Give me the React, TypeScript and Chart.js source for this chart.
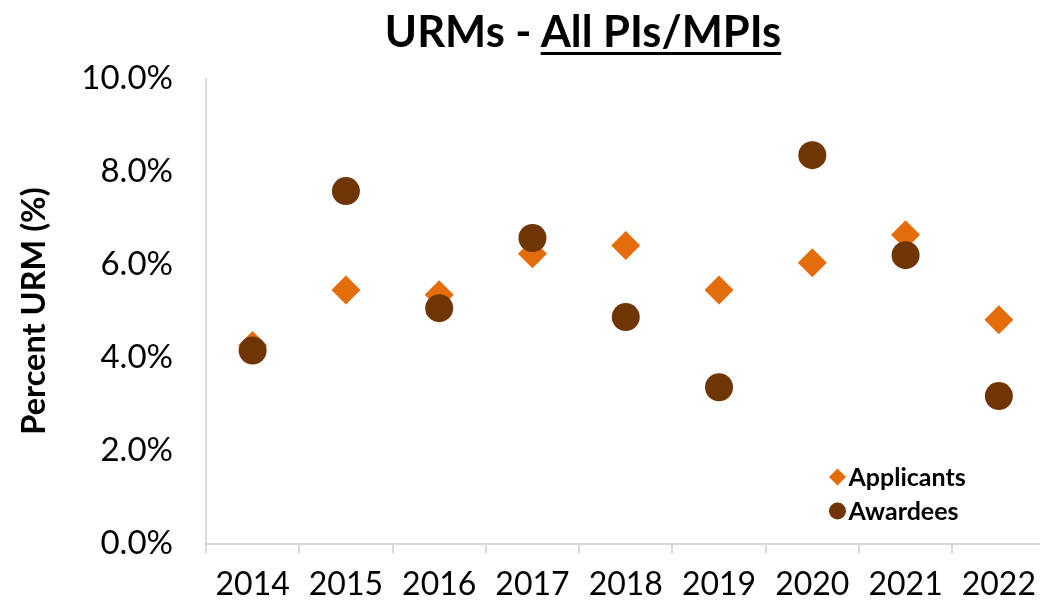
import React, { useEffect, useRef } from 'react';
import { Chart, registerables } from 'chart.js';

Chart.register(...registerables);

// ---- data ----
const years: string[] = ['2014', '2015', '2016', '2017', '2018', '2019', '2020', '2021', '2022'];
const applicants: number[] = [4.26, 5.45, 5.35, 6.23, 6.41, 5.45, 6.04, 6.64, 4.81];
const awardees: number[] = [4.15, 7.58, 5.06, 6.57, 4.87, 3.36, 8.35, 6.2, 3.17];
const seriesNames: string[] = ['Applicants', 'Awardees'];
const yMin = 0;
const yMax = 10;
const yStep = 2;
const titleMain = 'URMs - ';
const titleUnderlined = 'All PIs/MPIs';
const yAxisTitle = 'Percent URM (%)';

const ORANGE = '#E46C0A';
const BROWN = '#6F3504';
const AXIS = '#D9D9D9';
const FONT = 'Lato';

const legendPlugin = {
  id: 'insideLegend',
  afterDraw(chart: any) {
    const { ctx, chartArea } = chart;
    const x0 = chartArea.right - 208;
    const ys = [chartArea.bottom - 66.5, chartArea.bottom - 32.5];
    ctx.save();
    chart.data.datasets.forEach((ds: any, i: number) => {
      const y = ys[i];
      ctx.fillStyle = ds.backgroundColor;
      ctx.beginPath();
      if (ds.pointStyle === 'rectRot') {
        const r = 8.5;
        ctx.moveTo(x0, y - r);
        ctx.lineTo(x0 + r, y);
        ctx.lineTo(x0, y + r);
        ctx.lineTo(x0 - r, y);
        ctx.closePath();
      } else {
        ctx.arc(x0, y, 8.5, 0, Math.PI * 2);
      }
      ctx.fill();
      ctx.fillStyle = '#000';
      ctx.font = `bold 25px ${FONT}`;
      ctx.textBaseline = 'middle';
      ctx.textAlign = 'left';
      ctx.fillText(ds.label, x0 + 11, y + 1);
    });
    ctx.restore();
  },
};

export default function App() {
  const ref = useRef<HTMLCanvasElement | null>(null);

  useEffect(() => {
    if (!ref.current) return;
    const chart = new Chart(ref.current, {
      type: 'line',
      data: {
        labels: years,
        datasets: [
          {
            label: seriesNames[0],
            data: applicants,
            showLine: false,
            pointStyle: 'rectRot',
            pointRadius: 14.5,
            pointHoverRadius: 14.5,
            backgroundColor: ORANGE,
            borderColor: ORANGE,
            pointBorderWidth: 0,
            order: 2,
          },
          {
            label: seriesNames[1],
            data: awardees,
            showLine: false,
            pointStyle: 'circle',
            pointRadius: 14,
            pointHoverRadius: 14,
            backgroundColor: BROWN,
            borderColor: BROWN,
            pointBorderWidth: 0,
            order: 1,
          },
        ],
      },
      options: {
        animation: false,
        responsive: false,
        maintainAspectRatio: false,
        layout: { padding: { left: 0, right: 4, top: 78.5, bottom: 0 } },
        plugins: {
          legend: { display: false },
          tooltip: { enabled: false },
          title: { display: false },
        },
        scales: {
          x: {
            offset: true,
            grid: {
              offset: true,
              display: true,
              drawOnChartArea: false,
              drawTicks: true,
              tickLength: 10,
              color: AXIS,
              lineWidth: 2,
            },
            border: { display: true, color: AXIS, width: 2 },
            ticks: {
              font: { family: FONT, size: 32 },
              color: '#000',
              padding: 12,
              maxRotation: 0,
              autoSkip: false,
            },
            afterFit: (s: any) => {
              s.height = 63.5;
            },
          },
          y: {
            min: yMin,
            max: yMax,
            ticks: {
              stepSize: yStep,
              callback: (v: any) => Number(v).toFixed(1) + '%',
              font: { family: FONT, size: 33 },
              color: '#000',
              padding: 25,
            },
            grid: { display: false },
            border: { display: true, color: AXIS, width: 2 },
            title: {
              display: true,
              text: yAxisTitle,
              font: { family: FONT, size: 32.5, weight: 'bold' },
              color: '#000',
              padding: { top: 15, bottom: 0 },
            },
            afterFit: (s: any) => {
              s.width = 206;
            },
          },
        },
      },
      plugins: [legendPlugin],
    } as any);
    return () => chart.destroy();
  }, []);

  return (
    <div
      style={{
        position: 'absolute',
        left: 0,
        top: 0,
        width: 1040,
        height: 607,
        overflow: 'hidden',
        background: '#fff',
      }}
    >
      <canvas
        ref={ref}
        width={1060}
        height={607}
        style={{ position: 'absolute', left: 0, top: 0, width: 1060, height: 607, display: 'block' }}
      />
      <div
        style={{
          position: 'absolute',
          left: 583,
          top: 9,
          transform: 'translateX(-50%)',
          whiteSpace: 'nowrap',
          fontFamily: FONT,
          fontWeight: 'bold',
          fontSize: 43.5,
          lineHeight: 1,
          color: '#000',
        }}
      >
        {titleMain}
        <span
          style={{
            textDecoration: 'underline',
            textDecorationThickness: 3,
            textUnderlineOffset: 5,
          }}
        >
          {titleUnderlined}
        </span>
      </div>
    </div>
  );
}
